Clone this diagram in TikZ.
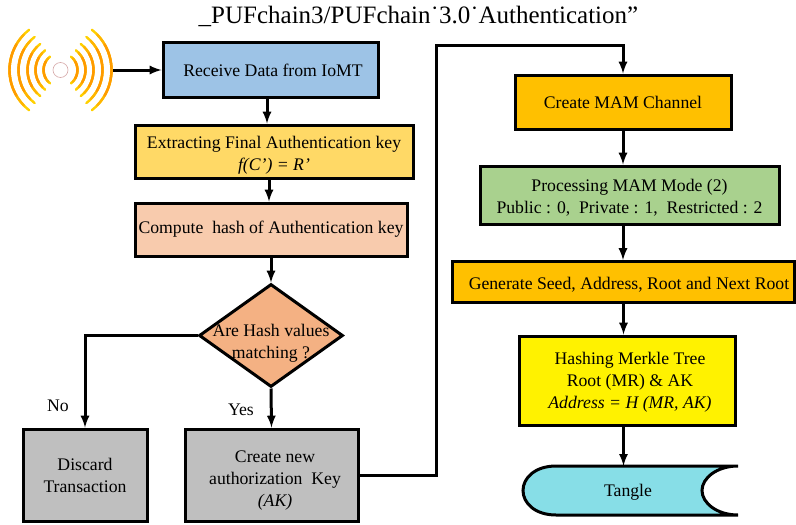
\documentclass[tikz,border=0pt]{standalone}
\usepackage{fontspec}
\setmainfont{Liberation Serif}
\usetikzlibrary{arrows,shapes.geometric}

\definecolor{receivefill}{HTML}{9DC3E6}
\definecolor{extractfill}{HTML}{FFD966}
\definecolor{computefill}{HTML}{F8CBAD}
\definecolor{decidefill}{HTML}{F4B183}
\definecolor{greyfill}{HTML}{BFBFBF}
\definecolor{mamfill}{HTML}{FFC000}
\definecolor{modefill}{HTML}{A9D18E}
\definecolor{tanglefill}{HTML}{87DEE7}
\definecolor{waveout}{HTML}{FFD000}
\definecolor{wavemid}{HTML}{FFB400}
\definecolor{wavein}{HTML}{FF9A00}

\newcommand{\droptext}[1]{\rule{0pt}{#1}}

\tikzset{
  bodyfont/.style={font=\fontsize{17.7}{22}\selectfont},
  stepbox/.style={draw,line width=3pt,rectangle,inner sep=0pt,align=center,bodyfont},
  conn/.style={line width=3pt,-latex},
  wave/.style={line width=2.4pt,line cap=round}
}

\begin{document}
\begin{tikzpicture}[x=1pt,y=-1pt]
  \useasboundingbox (0,0) rectangle (796,525);

  \node[font=\fontsize{25}{28}\selectfont] (title) at (418.5,16) {\_PUFchain3/PUFchain˙3.0˙Authentication”};

  % antenna
  \node[draw=red!35!gray!50,circle,line width=0.6pt,minimum size=15pt,inner sep=0pt] (antenna) at (60.5,70) {};
  \foreach \r in {17,25,33,42,51} {
    \draw[wave,waveout] (antenna.center) ++(-52:\r) arc[start angle=-52,end angle=52,radius=\r];
    \draw[wave,wavemid] (antenna.center) ++(-44:\r) arc[start angle=-44,end angle=44,radius=\r];
    \draw[wave,wavein] (antenna.center) ++(-30:\r) arc[start angle=-30,end angle=30,radius=\r];
    \draw[wave,waveout] (antenna.center) ++(128:\r) arc[start angle=128,end angle=232,radius=\r];
    \draw[wave,wavemid] (antenna.center) ++(136:\r) arc[start angle=136,end angle=224,radius=\r];
    \draw[wave,wavein] (antenna.center) ++(150:\r) arc[start angle=150,end angle=210,radius=\r];
  }
  \coordinate (antennaout) at (113,70);

  % left column
  \node[stepbox,fill=receivefill,minimum width=215,minimum height=55] (receive) at (270.5,70) {\droptext{14pt}\hspace{5pt}Receive Data from IoMT};
  \node[stepbox,fill=extractfill,minimum width=278,minimum height=53] (extract) at (274,151.5) {\droptext{20pt}Extracting Final Authentication key\\\textit{f(C’) = R’}};
  \node[stepbox,fill=computefill,minimum width=272,minimum height=53] (compute) at (271,229.5) {Compute~~hash of Authentication key};
  \node[diamond,draw,line width=3pt,fill=decidefill,minimum width=144,minimum height=103,inner sep=0pt,
    label={[align=center,bodyfont,yshift=-8pt]center:Are Hash values\\matching ?}] (decide) at (271,335.5) {};
  \node[stepbox,fill=greyfill,minimum width=124,minimum height=92] (discard) at (85,475) {Discard\\Transaction};
  \node[stepbox,fill=greyfill,minimum width=173,minimum height=92] (newkey) at (271.5,475) {\droptext{22pt}\hspace{7pt}Create new\\\hspace{7pt}authorization~~Key\\\hspace{7pt}\textit{(AK)}};
  \node[bodyfont] (no) at (58,406) {No};
  \node[bodyfont] (yes) at (241,409.5) {Yes};

  % right column
  \node[stepbox,fill=mamfill,minimum width=216,minimum height=54] (channel) at (623,102) {\droptext{14pt}Create MAM Channel};
  \node[stepbox,fill=modefill,minimum width=299,minimum height=58] (mode) at (629.5,195) {\droptext{18pt}Processing MAM Mode (2)\\Public : 0,~~Private : 1,~~Restricted : 2};
  \node[stepbox,fill=mamfill,minimum width=342,minimum height=41] (seed) at (623.5,282) {\droptext{18pt}\hspace{11pt}Generate Seed, Address, Root and Next Root};
  \node[stepbox,fill=yellow,minimum width=216,minimum height=89] (merkle) at (627,380.5) {\droptext{16pt}\hspace{6pt}Hashing Merkle Tree\\\hspace{6pt}Root (MR) \& AK\\\hspace{6pt}\textit{Address = H (MR, AK)}};

  % tangle
  \draw[line width=3pt,fill=tanglefill] (738,466) -- (556,466)
    .. controls (535,466) and (523,478) .. (523,490.5)
    .. controls (523,503) and (535,515) .. (556,515) -- (738,515)
    .. controls (717,515) and (702,503) .. (702,490.5)
    .. controls (702,478) and (717,466) .. (738,466);
  \node[bodyfont,minimum height=49,inner sep=0pt] (tangle) at (628,490.5) {\droptext{16pt}Tangle};

  \draw[conn] (antennaout) -- (receive.west);
  \draw[conn] ([xshift=-3.5]receive.south) -- ([xshift=-7]extract.north);
  \draw[conn] ([xshift=-5]extract.south) -- ([xshift=-2]compute.north);
  \draw[conn] (compute.south) -- (decide.north);
  \draw[conn] (decide.south) -- (newkey.north);
  \draw[conn] (decide.west) -| (discard.north);
  \draw[conn] (newkey.east) -- (436,475) -- (436,45) -| (channel.north);
  \draw[conn] (channel.south) -- (channel.south |- mode.north);
  \draw[conn] (mode.south -| channel) -- (seed.north -| channel);
  \draw[conn] (seed.south) -- (seed.south |- merkle.north);
  \draw[conn] (seed.south |- merkle.south) -- (seed.south |- tangle.north);
\end{tikzpicture}
\end{document}
